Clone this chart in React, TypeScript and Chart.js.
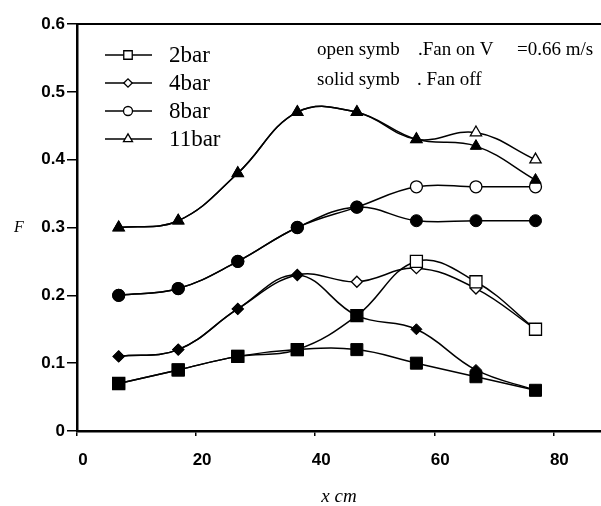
import React, { useEffect, useRef } from 'react';
import { Chart, registerables } from 'chart.js';

Chart.register(...registerables);

// ---- data ----
const xPositions = [7, 17, 27, 37, 47, 57, 67, 77];
const seriesNames = ['2bar', '4bar', '8bar', '11bar'];
const fanOn2bar = [0.07, 0.09, 0.11, 0.12, 0.17, 0.25, 0.22, 0.15];
const fanOff2bar = [0.07, 0.09, 0.11, 0.12, 0.12, 0.10, 0.08, 0.06];
const fanOn4bar = [0.11, 0.12, 0.18, 0.23, 0.22, 0.24, 0.21, 0.15];
const fanOff4bar = [0.11, 0.12, 0.18, 0.23, 0.17, 0.15, 0.09, 0.06];
const fanOn8bar = [0.20, 0.21, 0.25, 0.30, 0.33, 0.36, 0.36, 0.36];
const fanOff8bar = [0.20, 0.21, 0.25, 0.30, 0.33, 0.31, 0.31, 0.31];
const fanOn11bar = [0.30, 0.31, 0.38, 0.47, 0.47, 0.43, 0.44, 0.40];
const fanOff11bar = [0.30, 0.31, 0.38, 0.47, 0.47, 0.43, 0.42, 0.37];
const xMin = 0;
const xMax = 88;
const xStep = 20;
const yMin = 0;
const yMax = 0.6;
const yStep = 0.1;
const noteLine1 = ['open symb', '.Fan on V', '=0.66 m/s'];
const noteLine2 = ['solid symb', '. Fan off'];
const yTitle = 'F';
const xTitle = 'x cm';

// ---- styles ----
const pointStyles = ['rect', 'rectRot', 'circle', 'triangle'];
const pointRadii = [8.5, 5.5, 6, 6.5];
const legendRadii = [6, 4.2, 4.5, 5.2];

const toPoints = (ys: number[]) => xPositions.map((x, i) => ({ x, y: ys[i] }));

function drawMarker(ctx: CanvasRenderingContext2D, style: string, x: number, y: number, r: number) {
  ctx.beginPath();
  if (style === 'rect') {
    const s = Math.SQRT1_2 * r;
    ctx.rect(x - s, y - s, 2 * s, 2 * s);
  } else if (style === 'rectRot') {
    ctx.moveTo(x - r, y);
    ctx.lineTo(x, y - r);
    ctx.lineTo(x + r, y);
    ctx.lineTo(x, y + r);
    ctx.closePath();
  } else if (style === 'circle') {
    ctx.arc(x, y, r, 0, Math.PI * 2);
  } else {
    const a = (2 * Math.PI) / 3;
    ctx.moveTo(x, y - r);
    ctx.lineTo(x + Math.sin(a) * r, y - Math.cos(a) * r);
    ctx.lineTo(x + Math.sin(2 * a) * r, y - Math.cos(2 * a) * r);
    ctx.closePath();
  }
  ctx.fillStyle = '#fff';
  ctx.fill();
  ctx.stroke();
}

const overlayPlugin = {
  id: 'overlay',
  afterDraw(chart: any) {
    const ctx: CanvasRenderingContext2D = chart.ctx;
    const a = chart.chartArea;
    ctx.save();
    // top frame line
    ctx.strokeStyle = '#000';
    ctx.lineWidth = 2;
    ctx.beginPath();
    ctx.moveTo(a.left, a.top);
    ctx.lineTo(a.right, a.top);
    ctx.stroke();

    // legend
    ctx.lineWidth = 1.3;
    ctx.font = '23px "Liberation Serif", "Times New Roman", serif';
    ctx.textBaseline = 'middle';
    ctx.textAlign = 'left';
    ctx.fillStyle = '#000';
    seriesNames.forEach((name, i) => {
      const y = a.top + 31 + i * 28;
      ctx.beginPath();
      ctx.moveTo(a.left + 28, y);
      ctx.lineTo(a.left + 75, y);
      ctx.stroke();
      drawMarker(ctx, pointStyles[i], a.left + 51, y, legendRadii[i]);
      ctx.fillStyle = '#000';
      ctx.fillText(name, a.left + 92, y + 1);
    });

    // notes
    ctx.font = '19px "Liberation Serif", "Times New Roman", serif';
    ctx.fillText(noteLine1[0], a.left + 240, a.top + 26);
    ctx.fillText(noteLine1[1], a.left + 341, a.top + 26);
    ctx.fillText(noteLine1[2], a.left + 440, a.top + 26);
    ctx.fillText(noteLine2[0], a.left + 240, a.top + 56);
    ctx.fillText(noteLine2[1], a.left + 340, a.top + 56);

    // y title (unrotated)
    ctx.font = 'italic 16px "Liberation Serif", "Times New Roman", serif';
    ctx.textAlign = 'center';
    ctx.fillText(yTitle, 19, (a.top + a.bottom) / 2);
    ctx.restore();
  },
};

export default function App() {
  const canvasRef = useRef<HTMLCanvasElement | null>(null);

  useEffect(() => {
    if (!canvasRef.current) return;
    const onSeries = [fanOn2bar, fanOn4bar, fanOn8bar, fanOn11bar];
    const offSeries = [fanOff2bar, fanOff4bar, fanOff8bar, fanOff11bar];
    const datasets: any[] = [];
    offSeries.forEach((ys, i) => {
      datasets.push({
        label: seriesNames[i] + ' fan off',
        data: toPoints(ys),
        borderColor: '#000',
        borderWidth: 1.5,
        tension: 0.4,
        pointStyle: pointStyles[i],
        pointRadius: pointRadii[i],
        pointBackgroundColor: '#000',
        pointBorderColor: '#000',
        pointBorderWidth: 1,
        order: 0,
      });
    });
    onSeries.forEach((ys, i) => {
      datasets.push({
        label: seriesNames[i] + ' fan on',
        data: toPoints(ys),
        borderColor: '#000',
        borderWidth: 1.5,
        tension: 0.4,
        pointStyle: pointStyles[i],
        pointRadius: pointRadii[i],
        pointBackgroundColor: i === 0 ? (c: any) => (c.dataIndex <= 4 ? '#000' : '#fff') : '#fff',
        pointBorderColor: '#000',
        pointBorderWidth: 1.3,
        order: 1,
      });
    });

    const tickFont = { family: '"Liberation Sans", Arial, sans-serif', size: 17, weight: 'bold' as const };
    const chart = new Chart(canvasRef.current, {
      type: 'line',
      data: { datasets },
      plugins: [overlayPlugin],
      options: {
        animation: false,
        responsive: true,
        maintainAspectRatio: false,
        color: '#000',
        layout: { autoPadding: false, padding: { top: 24, right: 0, bottom: 0, left: 0 } },
        plugins: { legend: { display: false }, tooltip: { enabled: false } },
        scales: {
          x: {
            type: 'linear',
            min: xMin,
            max: xMax,
            afterFit: (s: any) => {
              s.height = 75;
            },
            ticks: {
              stepSize: xStep,
              includeBounds: false,
              color: '#000',
              font: tickFont,
              padding: 14,
              labelOffset: 6,
              maxRotation: 0,
            },
            grid: {
              display: true,
              drawOnChartArea: false,
              drawTicks: true,
              tickLength: 5,
              color: '#000',
              lineWidth: 1.5,
            },
            border: { display: true, color: '#000', width: 2.5 },
            title: {
              display: true,
              text: xTitle,
              color: '#000',
              font: { family: '"Liberation Serif", "Times New Roman", serif', size: 19, style: 'italic', lineHeight: 1 },
              padding: { top: 0, bottom: 0 },
            },
          },
          y: {
            type: 'linear',
            min: yMin,
            max: yMax,
            afterFit: (s: any) => {
              s.width = 77;
            },
            ticks: {
              stepSize: yStep,
              color: '#000',
              font: tickFont,
              padding: 2,
              callback: (v: any) => (Number(v) === 0 ? '0' : Number(v).toFixed(1)),
            },
            grid: {
              display: true,
              drawOnChartArea: false,
              drawTicks: true,
              tickLength: 10,
              color: '#000',
              lineWidth: 1.5,
            },
            border: { display: true, color: '#000', width: 2.5 },
          },
        },
      },
    });
    return () => chart.destroy();
  }, []);

  return (
    <div style={{ position: 'fixed', left: 0, top: 0, width: 601, height: 506, background: '#fff' }}>
      <canvas ref={canvasRef} />
    </div>
  );
}
